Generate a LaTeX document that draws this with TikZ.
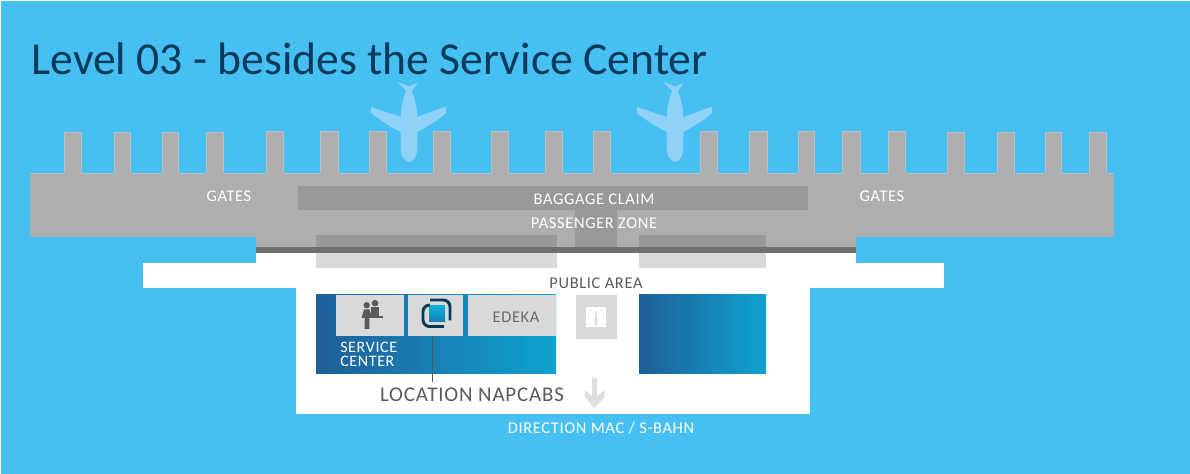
\documentclass[tikz,border=0pt]{standalone}
\usepackage{fontspec}
\setmainfont{Carlito}
\newfontfamily\labelfont[LetterSpace=4]{Carlito}
\definecolor{skyblue}{HTML}{46BFF3}
\definecolor{planeblue}{HTML}{8FD1F7}
\definecolor{hallgray}{HTML}{AEAEAE}
\definecolor{zonegray}{HTML}{9A9999}
\definecolor{bandgray}{HTML}{6F6F6F}
\definecolor{shopgray}{HTML}{D9D9D9}
\definecolor{textgray}{HTML}{5A5A5A}
\definecolor{titleblue}{HTML}{063A5A}
\definecolor{deepblue}{HTML}{1F5F98}
\definecolor{midblue}{HTML}{0E8DC3}
\definecolor{lightblue}{HTML}{0FA2D1}
\tikzset{
  x=0.75pt,y=-0.75pt,
  label white/.style={text=white,font=\labelfont\fontsize{12.3}{13}\selectfont,inner sep=0pt},
  label dark/.style={text=textgray,font=\labelfont\fontsize{12.3}{13}\selectfont,inner sep=0pt},
  wing/.style={left color=deepblue,middle color=midblue,right color=lightblue,shading angle=90},
}
\begin{document}
\begin{tikzpicture}
\useasboundingbox (0,0) rectangle (1190,474);
\fill[white] (0,0) rectangle (1190,474);
\fill[skyblue] (1,1) rectangle (1190,474);
\node[anchor=base west,text=titleblue,inner sep=0pt,font=\fontsize{34.25}{36}\selectfont] (title) at (31,74.5) {Level 03 - besides the Service Center};
% planes
\foreach \a in {409,675}
  \fill[xshift=0.75pt*\a,color=planeblue] (-11.5,82) .. controls (-6,84) and (-3,85) .. (0,86.5)
    .. controls (3,85) and (6,84) .. (8.5,83) -- (3,91) .. controls (6,98) and (8,108) .. (8.3,117)
    -- (37,106.5) -- (37,113) .. controls (27,122) and (17,127) .. (8.3,132) -- (8.3,148)
    .. controls (8,157) and (4,162) .. (0,162) .. controls (-4,162) and (-8,157) .. (-8.3,148)
    -- (-8.3,132) .. controls (-18,127) and (-28,121) .. (-38,113) -- (-38,107) -- (-8.3,117)
    .. controls (-8,108) and (-6,98) .. (-3,91) -- cycle;
% terminal
\fill[hallgray] (30,173) rectangle (1113.5,237.5);
\draw[hallgray!80!white,line width=0.25pt] (30,173) -- (1113.5,173);
% piers
\foreach \a/\b/\t in {64/81/132,114/130.5/132,162/178/132,206/223.5/132,266/283.5/131,320/338/131,369/386.5/131,433/450/131,491/508.5/131,545/562/131,593/610.5/131,700/717/131,749.5/767/131,798/814/131,842.5/860/131,888.5/905.5/131,947/964/132,997/1014/132,1045/1061/132,1089.5/1106.5/132} {
  \fill[hallgray] (\a,\t) rectangle (\b,174);
  \draw[hallgray!80!white,line width=0.25pt] (\a,173) -- (\a,\t) -- (\b,\t) -- (\b,173);
}
\fill[hallgray] (255.5,237) rectangle (856,248);
\fill[white] (255.5,252) rectangle (856,264);
\fill[white] (143,263) rectangle (944,288);
\fill[white] (295.5,287.5) rectangle (810,414);
\fill[zonegray] (298,186) rectangle (808,210.5);
\fill[zonegray] (575,210) rectangle (617,248);
\foreach \a/\b in {316/557,639/766} {
  \fill[zonegray] (\a,235) rectangle (\b,248);
  \fill[shopgray] (\a,252) rectangle (\b,268);
}
\fill[bandgray] (255.5,247) rectangle (856,252.7);
% blue blocks
\fill[wing] (316,295) rectangle (556,373.5);
\fill[wing] (639,295) rectangle (766,373.5);
% shops
\fill[shopgray] (336,295) rectangle (403.7,335.7);
\fill[shopgray] (467.7,295) rectangle (556,335.7);
\node[fill=shopgray,minimum width=41.25pt,minimum height=30.5pt,inner sep=0pt] (kiosk) at (435.8,315.35) {};
\fill[shopgray] (575.5,295) rectangle (616.7,338.7);
% service icon
\fill[textgray] (366.7,305.3) circle (3.2);
\fill[textgray] (375,303.2) circle (3.3);
\fill[textgray] (361.5,318) -- (364,309.5) -- (369.5,309.5) -- (372,318) -- (369.3,318) -- (369.3,329) -- (364.7,329) -- (364.7,318) -- cycle;
\fill[textgray] (371,307.5) rectangle (379,316);
\fill[textgray] (370,316.3) rectangle (382.7,317.8);
% napcabs icon
\shade[top color=lightblue!80!cyan,bottom color=deepblue!30!midblue] (429,305.3) rectangle (445,321.3);
\draw[titleblue,line width=2.2pt,rounded corners=5pt] (428.5,305) -- (423,305) -- (423,326.5) -- (444,326.5);
\draw[titleblue,line width=2.2pt,rounded corners=5pt] (430,300) -- (450,300) -- (450,320.5);
% info box
\fill[white] (586,307.3) rectangle (606,326.7);
\fill[shopgray] (594.7,311) rectangle (597.3,314);
\fill[shopgray] (594.7,316) rectangle (597.3,325);
% way out
\fill[shopgray!85!white] (592,378) -- (597,378) -- (597,396) -- (604.5,390) -- (604.5,397) -- (594.5,408.5) -- (585,397) -- (585,390) -- (592,396) -- cycle;
% labels
\node[label white] (gatesleft) at (229,196) {GATES};
\node[label white] (gatesright) at (882,196) {GATES};
\node[label white] (baggage) at (594,199) {BAGGAGE CLAIM};
\node[label white] (zone) at (594,223) {PASSENGER ZONE};
\node[label dark] (public) at (596,283) {PUBLIC AREA};
\node[label dark,text=textgray!90!white] (edeka) at (516,317) {EDEKA};
\node[label white,align=left,anchor=west,font=\labelfont\fontsize{12}{10.5}\selectfont] (service) at (340,354.5) {SERVICE\\CENTER};
\node[text=textgray,inner sep=0pt,font=\labelfont\fontsize{15.7}{17}\selectfont] (location) at (472,395) {LOCATION NAPCABS};
\node[label white] (direction) at (601,428) {DIRECTION MAC / S-BAHN};
\coordinate (pin) at (432.3,382);
\draw[textgray,line width=1.1pt] (pin |- kiosk.south) -- (pin);
\end{tikzpicture}
\end{document}
